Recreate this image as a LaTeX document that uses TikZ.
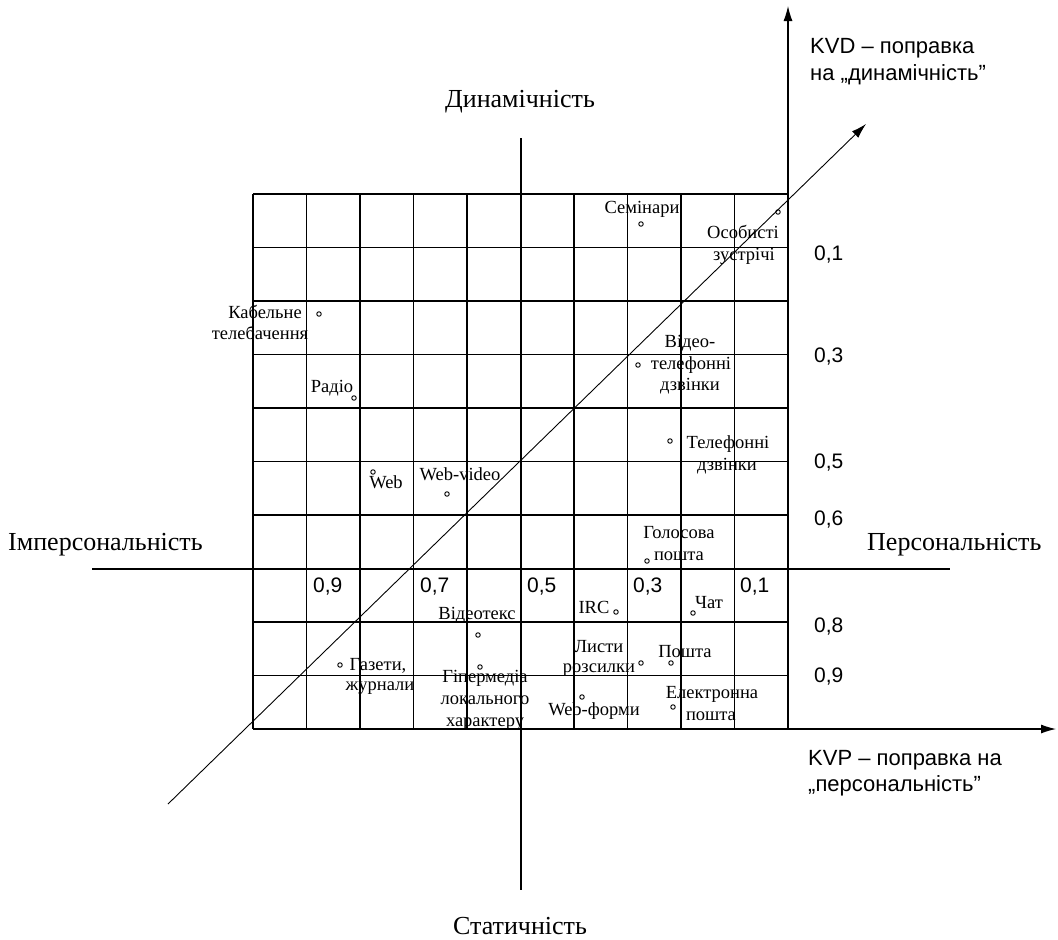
\documentclass[tikz,border=0pt]{standalone}
\usepackage{fontspec}
\setmainfont{Liberation Serif}
\setsansfont{Liberation Sans}
\usetikzlibrary{arrows.meta}
\begin{document}
\begin{tikzpicture}[x=1pt,y=-1pt,
  gridline/.style={line width=1.3pt},
  axisline/.style={line width=2.4pt},
  arr/.style={line width=1.1pt,-{Latex[length=15pt,width=9pt]}},
  diag/.style={line width=0.9pt,-{Latex[length=15pt,width=9pt]}},
  pt/.style={circle,draw,line width=0.9pt,inner sep=0pt,minimum size=4.5pt},
  lbl/.style={font=\fontsize{18.5}{21}\selectfont,inner sep=0pt,anchor=base},
  big/.style={font=\fontsize{26}{30}\selectfont,inner sep=0pt,anchor=base},
  num/.style={font=\sffamily\fontsize{21}{25}\selectfont,inner sep=0pt,anchor=base west},
  kv/.style={font=\sffamily\fontsize{22}{26}\selectfont,inner sep=0pt,anchor=base west}]
\useasboundingbox (0,0) rectangle (1058,940);
% grid
\foreach \i in {0,...,10} {
  \draw[gridline] ({253+53.5*\i},194) -- ({253+53.5*\i},729);
  \draw[gridline] (253,{194+53.5*\i}) -- (788,{194+53.5*\i});
}
% axes
\coordinate (hl) at (92,569);
\coordinate (hr) at (950,569);
\coordinate (vt) at (521,138);
\coordinate (vb) at (521,890);
\draw[axisline] (hl) -- (hr);
\draw[axisline] (vt) -- (vb);
\coordinate (kvd0) at (788,729);
\coordinate (kvd1) at (788,6);
\coordinate (kvp0) at (788,729);
\coordinate (kvp1) at (1056,729);
\draw[arr] (kvd0) -- (kvd1);
\draw[arr] (kvp0) -- (kvp1);
\coordinate (d0) at (168,804);
\coordinate (d1) at (866,124);
\draw[diag] (d0) -- (d1);
% big labels
\node[big] (dyn) at (520,107) {Динамічність};
\node[big] (stat) at (520,934) {Статичність};
\node[big,anchor=base west] (imp) at (8,550) {Імперсональність};
\node[big,anchor=base west] (pers) at (867,550) {Персональність};
% KV labels
\node[kv] (kvda) at (810,53) {KVD – поправка};
\node[kv] (kvdb) at (810,80) {на „динамічність”};
\node[kv] (kvpa) at (808,765) {KVP – поправка на};
\node[kv] (kvpb) at (808,791) {„персональність”};
% right numbers
\node[num] (r1) at (814,260) {0,1};
\node[num] (r3) at (814,362) {0,3};
\node[num] (r5) at (814,468) {0,5};
\node[num] (r6) at (814,525) {0,6};
\node[num] (r8) at (814,632) {0,8};
\node[num] (r9) at (814,682) {0,9};
% bottom numbers
\node[num] (b9) at (313,592) {0,9};
\node[num] (b7) at (420,592) {0,7};
\node[num] (b5) at (527,592) {0,5};
\node[num] (b3) at (633,592) {0,3};
\node[num] (b1) at (740,592) {0,1};
% points
\node[pt] (psem) at (641,224) {};
\node[pt] (posob) at (778,212) {};
\node[pt] (pkab) at (319,314) {};
\node[pt] (prad) at (354,398) {};
\node[pt] (pweb) at (373,472) {};
\node[pt] (pwebv) at (447,494) {};
\node[pt] (pvid) at (638,365) {};
\node[pt] (ptel) at (670,441) {};
\node[pt] (pgol) at (647,561) {};
\node[pt] (pirc) at (616,612) {};
\node[pt] (pchat) at (693,613) {};
\node[pt] (plist) at (641,663) {};
\node[pt] (posh) at (671,663) {};
\node[pt] (pwebf) at (582,697) {};
\node[pt] (pel) at (673,707) {};
\node[pt] (pvt) at (478,635) {};
\node[pt] (phyp) at (480,667) {};
\node[pt] (pgaz) at (340,665) {};
% labels
\node[lbl] (lsem) at (642,213) {Семінари};
\node[lbl] (losob1) at (743,238) {Особисті};
\node[lbl] (losob2) at (744,260) {зустрічі};
\node[lbl] (lkab1) at (265,318) {Кабельне};
\node[lbl] (lkab2) at (260,339) {телебачення};
\node[lbl] (lrad) at (332,392) {Радіо};
\node[lbl] (lweb) at (386,488) {Web};
\node[lbl] (lwebv) at (460,480) {Web-video};
\node[lbl] (lvid1) at (690,347) {Відео-};
\node[lbl] (lvid2) at (691,369) {телефонні};
\node[lbl] (lvid3) at (690,390) {дзвінки};
\node[lbl] (ltel1) at (728,448) {Телефонні};
\node[lbl] (ltel2) at (727,470) {дзвінки};
\node[lbl] (lgol1) at (679,538) {Голосова};
\node[lbl] (lgol2) at (679,560) {пошта};
\node[lbl] (lirc) at (594,613) {IRC};
\node[lbl] (lchat) at (709,608) {Чат};
\node[lbl] (llist1) at (599,652) {Листи};
\node[lbl] (llist2) at (599,672) {розсилки};
\node[lbl] (losh) at (685,657) {Пошта};
\node[lbl] (lwebf) at (594,715) {Web-форми};
\node[lbl] (lel1) at (712,698) {Електронна};
\node[lbl] (lel2) at (711,720) {пошта};
\node[lbl] (lvt) at (477,619) {Відеотекс};
\node[lbl] (lhyp1) at (485,682) {Гіпермедіа};
\node[lbl] (lhyp2) at (485,704) {локального};
\node[lbl] (lhyp3) at (485,726) {характеру};
\node[lbl] (lgaz1) at (378,670) {Газети,};
\node[lbl] (lgaz2) at (380,690) {журнали};
\end{tikzpicture}
\end{document}
